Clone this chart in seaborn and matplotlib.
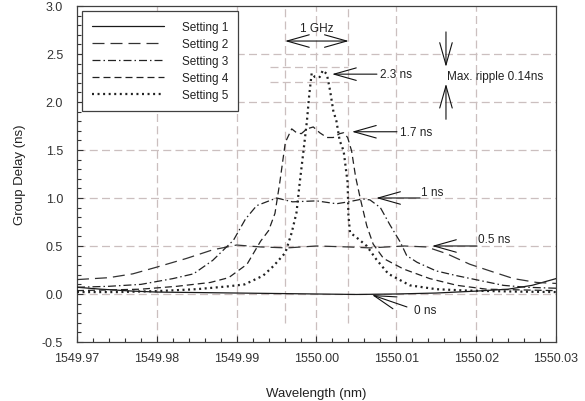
import numpy as np
import pandas as pd
import seaborn as sns
import matplotlib.pyplot as plt

# Group delay curves (wavelength in nm, delay in ns)
wl_1 = [1549.970, 1549.973, 1549.977, 1549.980, 1549.990, 1550.000, 1550.005,
        1550.010, 1550.015, 1550.020, 1550.024, 1550.027, 1550.030]
gd_1 = [0.07, 0.05, 0.03, 0.02, 0.01, 0.0, -0.005, 0.0, 0.01, 0.03, 0.05, 0.09, 0.16]

wl_2 = [1549.970, 1549.974, 1549.977, 1549.980, 1549.9837, 1549.987, 1549.990,
        1549.993, 1549.9963, 1550.000, 1550.004, 1550.0067, 1550.011, 1550.0138,
        1550.0163, 1550.0192, 1550.0221, 1550.0247, 1550.0276, 1550.030]
gd_2 = [0.15, 0.17, 0.21, 0.28, 0.37, 0.46, 0.51, 0.49, 0.48, 0.50, 0.49, 0.48,
        0.50, 0.49, 0.42, 0.31, 0.23, 0.16, 0.12, 0.11]

wl_3 = [1549.970, 1549.974, 1549.978, 1549.982, 1549.9846, 1549.987, 1549.9896,
        1549.9911, 1549.9925, 1549.995, 1549.997, 1550.000, 1550.0025, 1550.004,
        1550.0058, 1550.0067, 1550.008, 1550.0092, 1550.0105, 1550.0113, 1550.0126,
        1550.015, 1550.0176, 1550.0205, 1550.0234, 1550.0263, 1550.030]
gd_3 = [0.07, 0.08, 0.10, 0.16, 0.21, 0.35, 0.56, 0.78, 0.92, 1.0, 0.96, 0.97,
        0.94, 0.96, 0.99, 0.98, 0.90, 0.72, 0.54, 0.40, 0.33, 0.24, 0.19, 0.14,
        0.09, 0.07, 0.06]

wl_4 = [1549.970, 1549.978, 1549.9825, 1549.9867, 1549.989, 1549.9913, 1549.993,
        1549.994, 1549.9948, 1549.9954, 1549.9958, 1549.9961, 1549.9969, 1549.9975,
        1549.9981, 1549.9988, 1549.9996, 1550.0004, 1550.0013, 1550.0021, 1550.0029,
        1550.0034, 1550.0039, 1550.0044, 1550.0049, 1550.0055, 1550.0063, 1550.0071,
        1550.0084, 1550.0109, 1550.0142, 1550.0176, 1550.0213, 1550.030]
gd_4 = [0.035, 0.05, 0.08, 0.12, 0.17, 0.31, 0.55, 0.66, 0.84, 1.16, 1.40, 1.58,
        1.72, 1.68, 1.67, 1.72, 1.74, 1.68, 1.63, 1.63, 1.67, 1.68, 1.63, 1.49,
        1.22, 0.99, 0.71, 0.52, 0.37, 0.26, 0.16, 0.09, 0.05, 0.035]

wl_5 = [1549.970, 1549.975, 1549.980, 1549.985, 1549.989, 1549.991, 1549.9933,
        1549.9946, 1549.9961, 1549.9969, 1549.9975, 1549.9979, 1549.9984, 1549.9988,
        1549.9991, 1549.9994, 1549.9998, 1550.0004, 1550.0008, 1550.0013, 1550.0017,
        1550.0021, 1550.0025, 1550.0029, 1550.0034, 1550.0039, 1550.0040, 1550.0042,
        1550.0050, 1550.0063, 1550.0075, 1550.0090, 1550.0117, 1550.015, 1550.019,
        1550.025, 1550.030]
gd_5 = [0.02, 0.02, 0.03, 0.05, 0.08, 0.10, 0.19, 0.29, 0.43, 0.64, 0.85, 1.16,
        1.51, 1.80, 2.08, 2.30, 2.26, 2.26, 2.33, 2.29, 2.12, 1.91, 1.80, 1.60,
        1.49, 1.16, 0.82, 0.64, 0.59, 0.50, 0.36, 0.21, 0.09, 0.05, 0.035, 0.025, 0.02]

settings = ['Setting 1', 'Setting 2', 'Setting 3', 'Setting 4', 'Setting 5']
x_ticks = [1549.97, 1549.98, 1549.99, 1550.00, 1550.01, 1550.02, 1550.03]
x_tick_labels = ['1549.97', '1549.98', '1549.99', '1550.00', '1550.01', '1550.02', '1550.03']
y_ticks = [-0.5, 0.0, 0.5, 1.0, 1.5, 2.0, 2.5, 3.0]

df = pd.concat([
    pd.DataFrame({'wl': w, 'gd': g, 'setting': s})
    for w, g, s in zip([wl_1, wl_2, wl_3, wl_4, wl_5],
                       [gd_1, gd_2, gd_3, gd_4, gd_5], settings)
])

sns.set_style('ticks')
plt.rcParams['font.family'] = ['Liberation Sans', 'DejaVu Sans']
plt.rcParams['axes.unicode_minus'] = False

fig = plt.figure(figsize=(5.85, 4.02), dpi=100)
ax = fig.add_axes([0.1316, 0.1468, 0.8188, 0.8358])

grid_kw = dict(color='#cbbfbf', lw=0.9, linestyle=(0, (6.4, 3.4)), zorder=0)
for xv in x_ticks[1:-1]:
    ax.axvline(xv, **grid_kw)
for yv in y_ticks[1:-1]:
    ax.axhline(yv, **grid_kw)
# 1 GHz markers and ripple reference lines
for xv in [1549.996, 1550.004]:
    ax.plot([xv, xv], [-0.3, 3.0], **grid_kw)
for yv in [2.36, 2.21]:
    ax.plot([1549.9942, 1550.0040], [yv, yv], **grid_kw)

styles = {
    'Setting 1': dict(linestyle='-', lw=0.9, color='#1a1a1a'),
    'Setting 2': dict(linestyle=(0, (9.6, 4.8)), lw=0.9, color='#333333'),
    'Setting 3': dict(linestyle=(0, (6.4, 2.4, 1.2, 2.4)), lw=0.9, color='#222222'),
    'Setting 4': dict(linestyle=(0, (5.6, 3.2)), lw=0.9, color='#222222'),
    'Setting 5': dict(linestyle=(0, (0.9, 1.6)), lw=1.6, color='#222222'),
}
for s in settings:
    sns.lineplot(data=df[df['setting'] == s], x='wl', y='gd', ax=ax,
                 label=s, estimator=None, zorder=3, **styles[s])

ax.set_xlim(1549.97, 1550.03)
ax.set_ylim(-0.5, 3.0)
ax.set_xticks(x_ticks)
ax.set_xticklabels(x_tick_labels)
ax.set_xticks(np.arange(1549.97, 1550.0301, 0.002), minor=True)
ax.set_yticks(y_ticks)
ax.set_yticklabels([f'{v:.1f}' for v in y_ticks])
ax.set_yticks(np.arange(-0.5, 3.01, 0.1), minor=True)
ax.tick_params(axis='both', which='both', direction='in', colors='#333333',
               labelsize=9, width=0.8)
ax.tick_params(axis='both', which='major', length=4)
ax.tick_params(axis='both', which='minor', length=3)
ax.tick_params(axis='x', pad=7)
ax.tick_params(axis='y', pad=10)
for sp in ax.spines.values():
    sp.set_color('#404040')
    sp.set_linewidth(0.9)

ax.set_xlabel('Wavelength (nm)', fontsize=9.5, color='#222222')
ax.set_ylabel('Group Delay (ns)', fontsize=9.5, color='#222222')
ax.xaxis.set_label_coords(0.5, -0.134)
ax.yaxis.set_label_coords(-0.106, 0.5)

h, l = ax.get_legend_handles_labels()
leg = ax.legend(h, l, loc='upper left', bbox_to_anchor=(0.0104, 0.985),
                borderaxespad=0, fontsize=8.5, handlelength=6.1, handletextpad=1.5,
                labelspacing=0.42, borderpad=0.85, fancybox=False, framealpha=1,
                edgecolor='#404040')
leg.get_frame().set_linewidth(0.9)
for t in leg.get_texts():
    t.set_color('#222222')

arrow = dict(arrowstyle='->, head_length=1.6, head_width=0.45', lw=0.8,
             color='#111111', mutation_scale=10, shrinkA=0, shrinkB=0)
dbl = dict(arrowstyle='<->, head_length=1.6, head_width=0.45', lw=0.8,
           color='#111111', mutation_scale=10, shrinkA=0, shrinkB=0)
tk = dict(fontsize=8.5, color='#222222')

ax.annotate('', xy=(1549.99605, 2.635), xytext=(1550.00405, 2.635), arrowprops=dbl)
ax.text(1550.0, 2.77, '1 GHz', ha='center', va='center', **tk)

ax.annotate('', xy=(1550.00194, 2.29), xytext=(1550.00757, 2.29), arrowprops=arrow)
ax.text(1550.0079, 2.29, '2.3 ns', ha='left', va='center', **tk)

ax.annotate('', xy=(1550.00444, 1.69), xytext=(1550.01008, 1.69), arrowprops=arrow)
ax.text(1550.0104, 1.69, '1.7 ns', ha='left', va='center', **tk)

ax.annotate('', xy=(1550.00747, 1.0), xytext=(1550.01298, 1.0), arrowprops=arrow)
ax.text(1550.0131, 1.0, '1 ns', ha='left', va='bottom', **tk)

ax.annotate('', xy=(1550.01447, 0.5), xytext=(1550.0201, 0.5), arrowprops=arrow)
ax.text(1550.0202, 0.51, '0.5 ns', ha='left', va='bottom', **tk)

ax.annotate('', xy=(1550.00695, -0.01), xytext=(1550.01133, -0.135), arrowprops=arrow)
ax.text(1550.0122, -0.17, '0 ns', ha='left', va='center', **tk)

ax.annotate('', xy=(1550.01622, 2.365), xytext=(1550.01622, 2.73), arrowprops=arrow)
ax.annotate('', xy=(1550.01622, 2.19), xytext=(1550.01622, 1.82), arrowprops=arrow)
ax.text(1550.01635, 2.27, 'Max. ripple 0.14ns', ha='left', va='center', **tk)

fig.savefig('out.png', dpi=100)
